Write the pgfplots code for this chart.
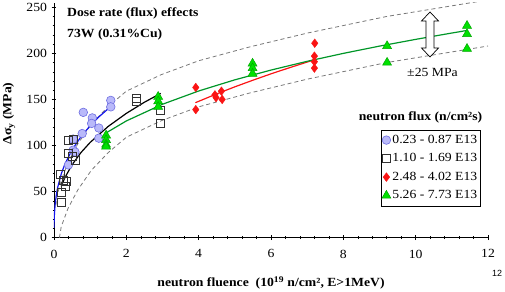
\documentclass[border=0pt]{standalone}
\usepackage{pgfplots}
\pgfplotsset{compat=1.18}
\usepackage{fontspec}
\setmainfont{Liberation Serif}[FakeStretch=1.1]
\newfontfamily\sansf{Liberation Sans}
\usetikzlibrary{shadows}
\definecolor{circfill}{RGB}{185,185,250}
\definecolor{circedge}{RGB}{110,110,225}
\definecolor{sqedge}{RGB}{50,50,50}
\definecolor{trifill}{RGB}{0,225,0}
\definecolor{triedge}{RGB}{0,165,0}
\definecolor{lgreen}{RGB}{0,150,40}
\definecolor{lblue}{RGB}{20,20,235}
\definecolor{lred}{RGB}{250,20,20}
\definecolor{dgray}{RGB}{120,120,120}
\begin{document}
\begin{tikzpicture}
\useasboundingbox (0,0) rectangle (505bp,292bp);
\begin{axis}[
  at={(54bp,54.3bp)}, anchor=south west,
  scale only axis, width=434bp, height=235bp,
  xmin=0, xmax=12, ymin=0, ymax=255,
  axis x line=bottom, axis y line=left,
  axis line style={-, black, line width=0.6pt},
  xtick={0,2,...,12}, ytick={0,50,...,250},
  minor x tick num=4, minor y tick num=4,
  tick align=center, major tick length=5bp, minor tick length=3bp,
  tick style={black, line width=0.5pt},
  ticklabel style={font=\fontsize{12.5}{14}\selectfont},
  xticklabel style={yshift=-6bp},
  yticklabel style={xshift=-1bp},
  /pgf/number format/assume math mode=true,
  legend style={at={(0.9816,0.46)}, anchor=north east, draw=black, line width=0.5pt,
    font=\fontsize{12.5}{14}\selectfont, inner xsep=1bp, inner ysep=1bp, row sep=0bp,
    nodes={text height=9bp, text depth=2.5bp, inner ysep=3.5bp, inner xsep=1.5bp},
    drop shadow={shadow xshift=1.2bp, shadow yshift=-1.2bp, fill=black!70, opacity=1}},
  legend cell align=left,
  legend image code/.code={\draw[mark repeat=2,mark phase=2,#1] plot coordinates {(0bp,0bp)(5bp,0bp)(10bp,0bp)};},
]
% dashed +-25 MPa band
\addplot[dgray, line width=0.8pt, dash pattern=on 4bp off 3bp, forget plot] coordinates {
 (0.15,0) (0.2,12) (0.39,32) (0.66,52) (1.03,73) (1.49,92) (2,109) (2.97,127) (4,142) (5.41,157) (7,172) (9.19,190) (12,208)};
\addplot[dgray, line width=0.8pt, dash pattern=on 4bp off 3bp, forget plot] coordinates {
 (0.05,35) (0.1,48) (0.2,62) (0.39,82) (0.66,102) (1.03,123) (1.49,142) (2,159) (2.97,177) (4,192) (5.41,207) (7,222) (9.19,240) (12,258)};
% data
\addplot[only marks, mark=*, mark size=4.3bp, mark options={fill=circfill, draw=circedge, line width=0.6pt}] coordinates {
 (0.4,79) (0.53,95) (0.58,93) (0.53,107) (0.78,113) (0.81,136) (1.06,130) (1.04,124) (1.24,119) (1.24,108) (1.57,149) (1.57,142)};
\addlegendentry{0.23 - 0.87 E13}
\addplot[only marks, mark=square, mark size=4bp, mark options={draw=sqedge, fill=none, line width=0.6pt}] coordinates {
 (0.21,38) (0.21,49) (0.26,62) (0.3,56) (0.18,69) (0.33,61) (0.4,92) (0.5,88) (0.58,84) (0.4,106) (0.52,107) (2.28,151) (2.28,148) (2.95,138) (2.95,124)};
\addlegendentry{1.10 - 1.69 E13}
\addplot[only marks, mark=diamond*, mark size=4.3bp, mark options={fill=lred, draw=lred}] coordinates {
 (3.92,163) (3.92,139) (4.45,155) (4.48,152) (4.63,159) (4.65,150) (7.21,211) (7.2,197) (7.2,191) (7.2,184)};
\addlegendentry{2.48 - 4.02 E13}
\addplot[only marks, mark=triangle*, mark size=5.2bp, mark options={fill=trifill, draw=triedge, line width=0.5pt}] coordinates {
 (1.44,111) (1.44,106) (1.44,101) (1.44,99) (2.88,153) (2.88,148) (2.88,142) (5.49,189) (5.49,184) (5.49,178) (9.21,208) (9.21,190) (11.42,230) (11.42,221) (11.42,205)};
\addlegendentry{5.26 - 7.73 E13}
% fit curves
\addplot[lblue, line width=1.2pt, forget plot] coordinates {
 (0.001,10.8) (0.003,15.9) (0.01,24.2) (0.03,35.6) (0.06,45.4) (0.1,54.3) (0.2,69.2) (0.3,79.7) (0.5,95.3) (0.75,109.9) (1.0,121.5) (1.25,131.4) (1.5,140.0)};
\addplot[black, line width=1.2pt, forget plot] coordinates {
 (0.2,55.7) (0.3,65.1) (0.5,79.2) (0.75,92.6) (1.0,103.4) (1.5,120.8) (2.0,134.9) (2.5,147.0) (2.95,156.6)};
\addplot[lred, line width=1.2pt, forget plot] coordinates {
 (3.91,146.5) (4.5,156.1) (5,163.7) (5.5,170.9) (6,177.8) (6.5,184.3) (7.2,193.1)};
\addplot[lgreen, line width=1.2pt, forget plot] coordinates {
 (1.41,113) (2,126.7) (3,144.8) (4,159.2) (5,171.3) (6,181.9) (7,191.4) (8,200.0) (9,207.9) (10,215.2) (11,222.1) (11.44,225.0)};
\end{axis}
% annotations
\node[anchor=west, inner sep=0pt, font=\fontsize{12.5}{14}\selectfont\bfseries] at (67bp,279bp) {Dose rate (flux) effects};
\node[anchor=west, inner sep=0pt, font=\fontsize{12.5}{14}\selectfont\bfseries] at (67bp,257bp) {73W (0.31\%Cu)};
\node[font=\fontsize{12.5}{14}\selectfont] at (432.5bp,220bp) {±25 MPa};
\node[font=\fontsize{12.5}{14}\selectfont\bfseries] at (420.5bp,175bp) {neutron flux (n/cm²s)};
\node[font=\fontsize{12.5}{14}\selectfont\bfseries] at (271bp,9bp) {neutron fluence\ \ (10\textsuperscript{19} n/cm², E>1MeV)};
\node[rotate=90, font=\fontsize{12.5}{14}\selectfont\bfseries] at (9bp,178.5bp) {Δσ\textsubscript{y} (MPa)};
\node[font=\sansf\fontsize{9}{10}\selectfont] at (497bp,19bp) {12};
\draw[black, fill=white, line width=0.7pt] (430bp,280bp) -- (438.5bp,271bp) -- (434bp,271bp) -- (434bp,244bp) -- (438.5bp,244bp) -- (430bp,235bp) -- (421.5bp,244bp) -- (426bp,244bp) -- (426bp,271bp) -- (421.5bp,271bp) -- cycle;
\end{tikzpicture}
\end{document}
